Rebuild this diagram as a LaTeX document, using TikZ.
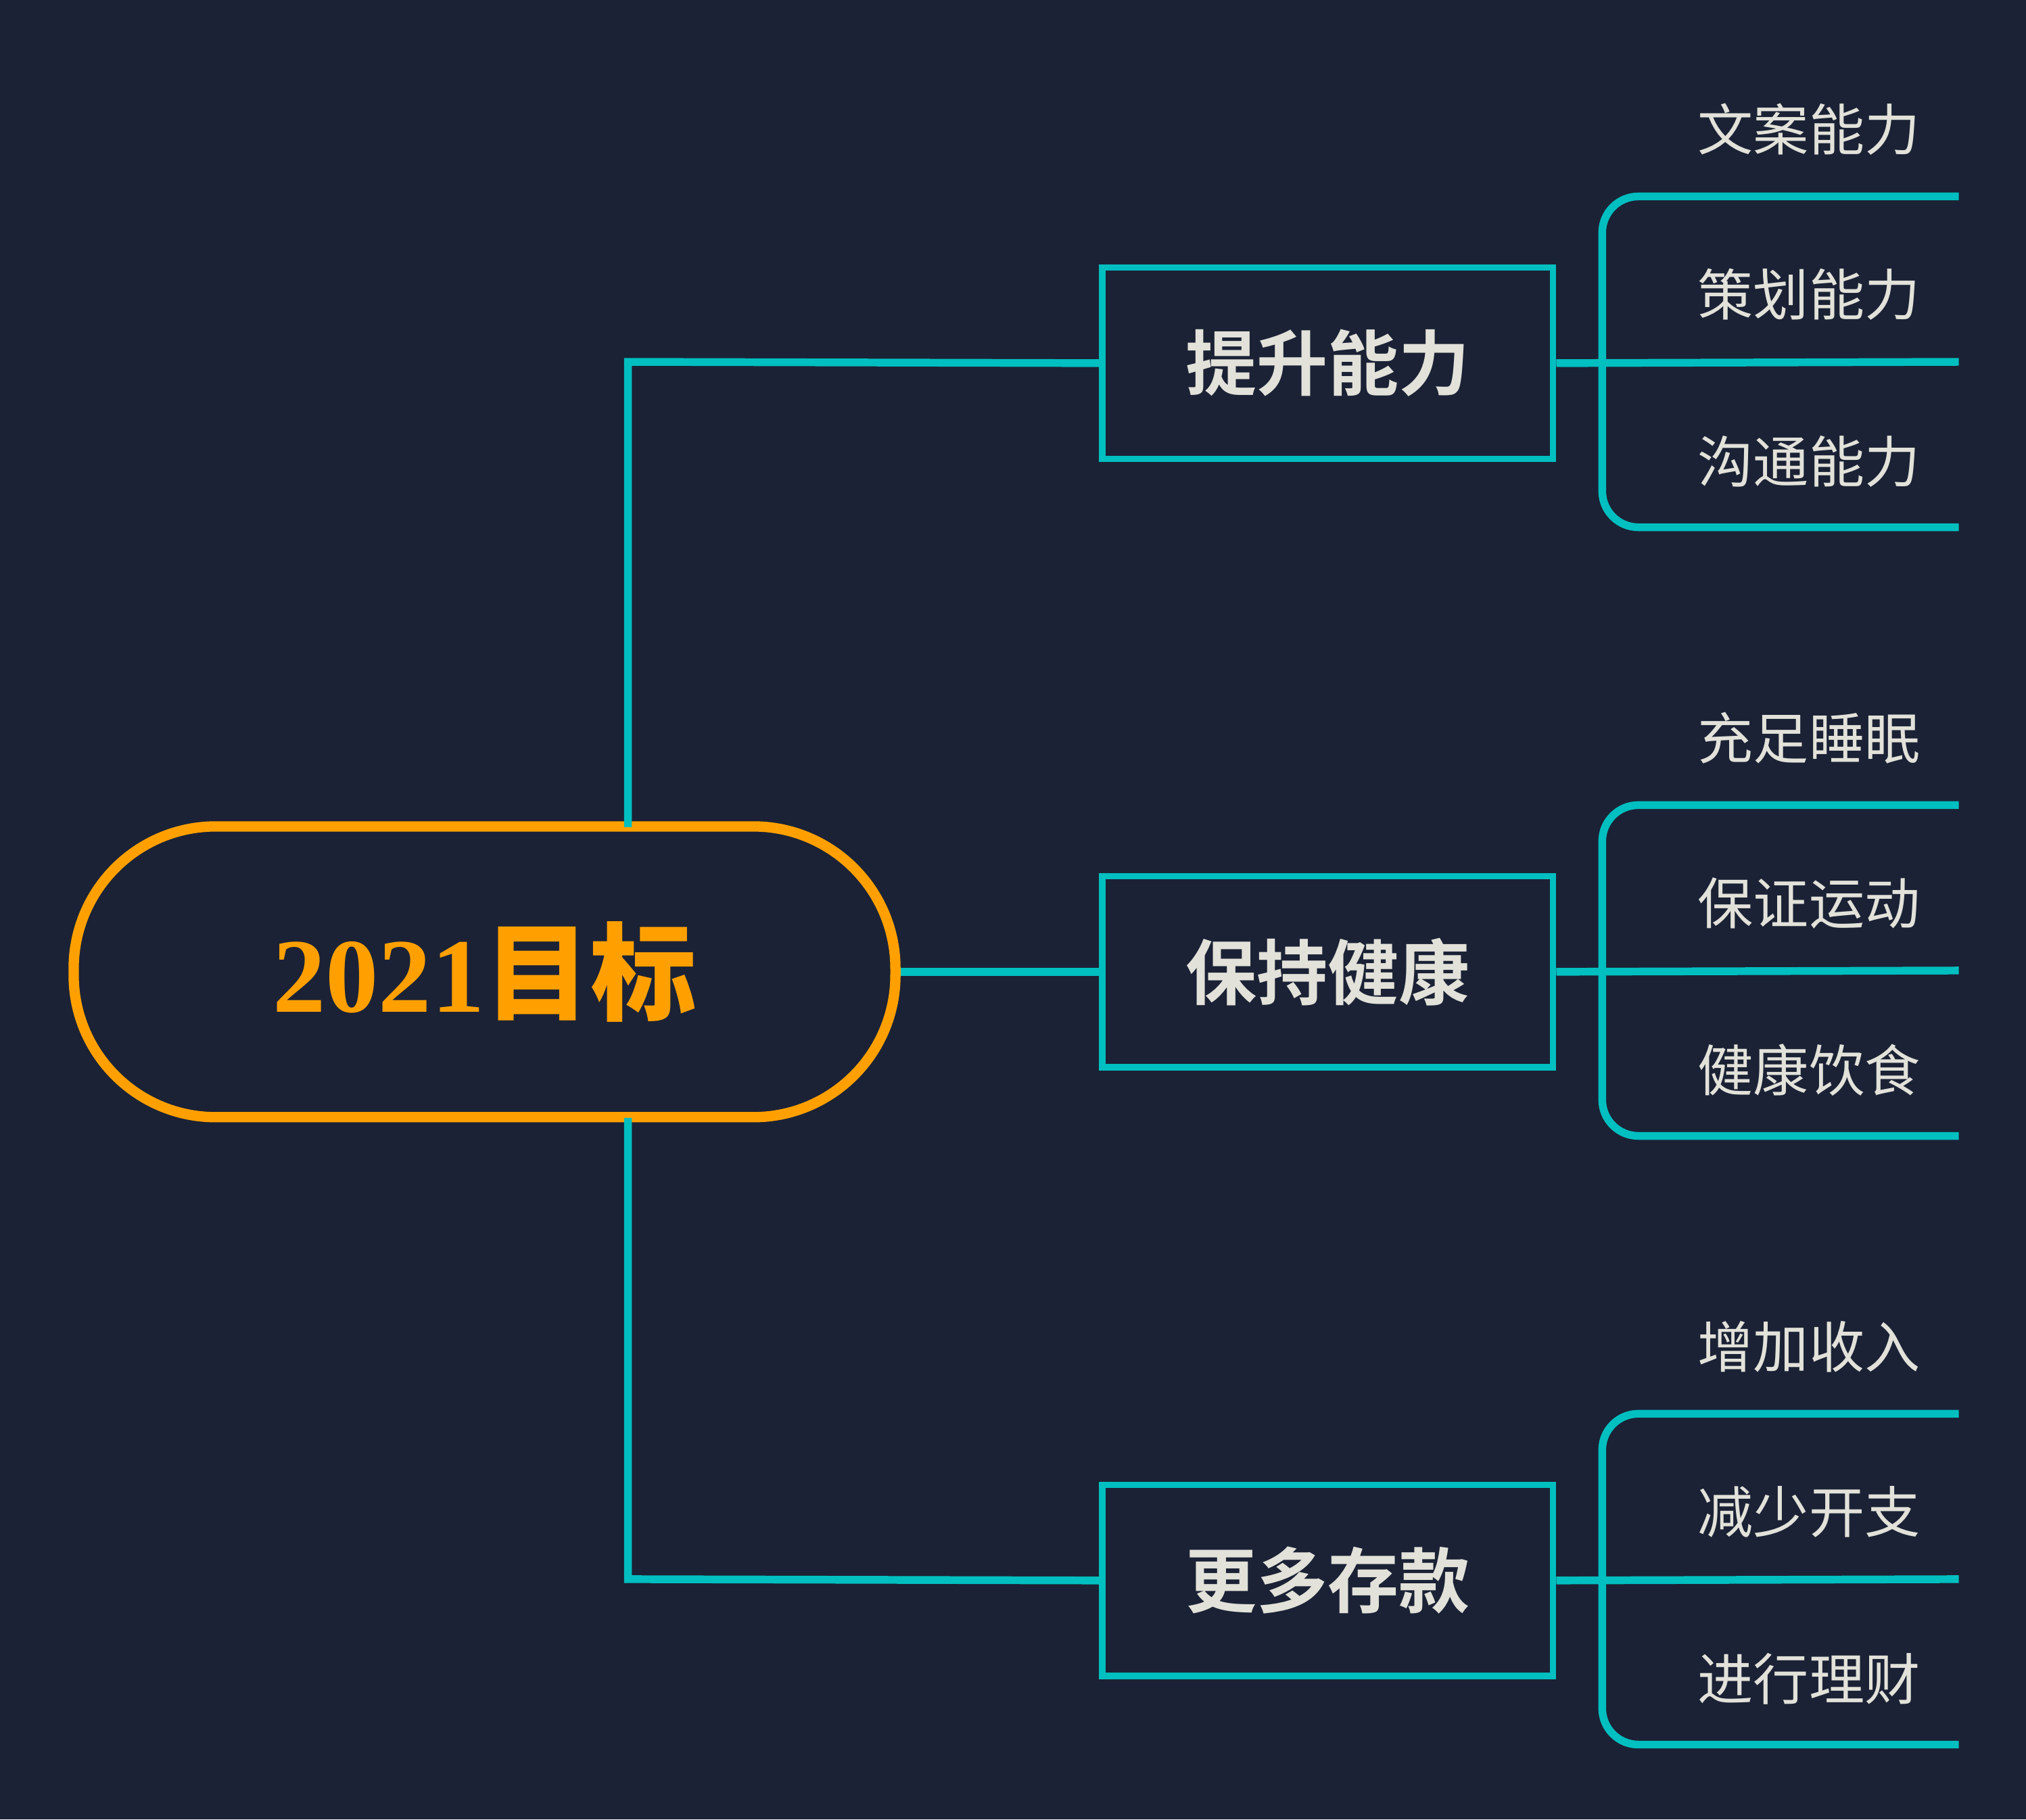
\documentclass[tikz,border=0pt]{standalone}
\usepackage{fontspec}
\newfontfamily\cjk{Noto Sans CJK SC}
\newfontfamily\cjkb{Noto Sans CJK SC Bold}
\newfontfamily\serifb{Liberation Serif}
\definecolor{bg}{HTML}{1B2235}
\definecolor{teal}{HTML}{00BFC0}
\definecolor{org}{HTML}{FFA000}
\definecolor{txt}{HTML}{E2E2DA}
\begin{document}
\begin{tikzpicture}[x=1pt,y=-1pt,
  conn/.style={draw=teal,line width=6pt},
  cat/.style={draw=teal,line width=5pt,minimum width=349pt,minimum height=148pt,text=txt,font={\cjkb\fontsize{55}{60}\selectfont}},
  leaf/.style={text=txt,font={\cjk\fontsize{43}{48}\selectfont}}]
\fill[bg] (0,0) rectangle (1568,1408);
\useasboundingbox (0,0) rectangle (1568,1408);
\node[draw=org,line width=8pt,rounded corners=110pt,minimum width=636pt,minimum height=225pt,text=org] (root) at (375,752)
 {\bfseries\fontsize{82}{90}\selectfont{\serifb 2021}{\cjkb 目标}};
\node[cat] (a) at (1027.5,281) {提升能力};
\node[cat] (b) at (1027.5,752) {保持健康};
\node[cat] (c) at (1027.5,1223) {更多存款};
\draw[conn] (486,640) -- (486,280) -- (a.west);
\draw[conn] (486,865) -- (486,1222) -- (c.west);
\draw[conn] (root.east) -- (b.west);
\foreach \n/\y/\p/\q/\r in {a/280/文案能力/策划能力/沟通能力, b/751/充足睡眠/保证运动/健康饮食, c/1222/增加收入/减少开支/进行理财}{
  \coordinate (\n t) at (1516,\y-128);
  \coordinate (\n m) at (1516,\y);
  \coordinate (\n b) at (1516,\y+128);
  \draw[conn,rounded corners=28pt] (\n t) -- (1240,\y-128) -- (1240,\y+128) -- (\n b);
  \draw[conn] (\n.east) -- (\n m);
  \node[leaf] (\n1) at (1400,\y-180) {\p};
  \node[leaf] (\n2) at (1400,\y-52) {\q};
  \node[leaf] (\n3) at (1400,\y+77) {\r};
}
\end{tikzpicture}
\end{document}
